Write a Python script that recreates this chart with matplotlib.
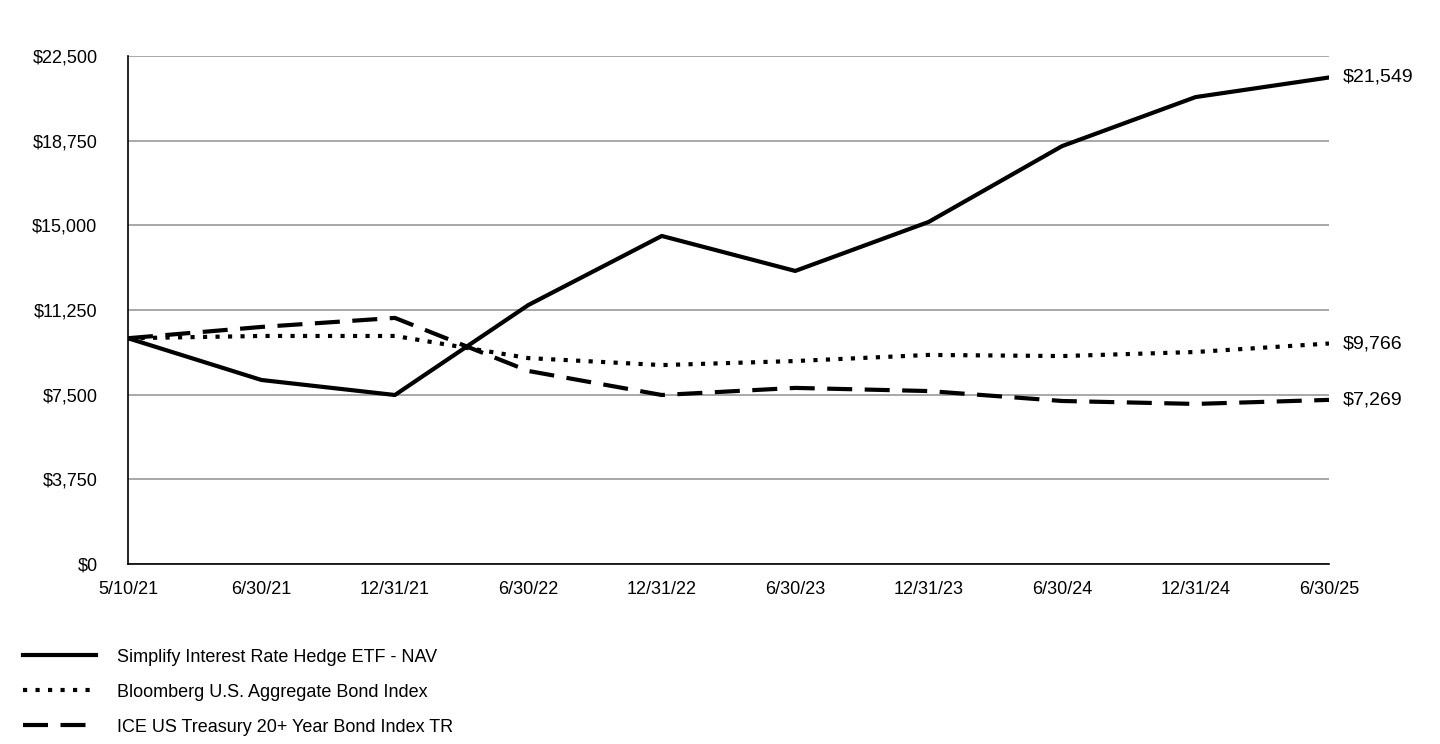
import matplotlib
matplotlib.use("Agg")
import matplotlib.pyplot as plt

dates = ["5/10/21","6/30/21","12/31/21","6/30/22","12/31/22","6/30/23","12/31/23","6/30/24","12/31/24","6/30/25"]
nav = [10000, 8150, 7485, 11470, 14530, 12980, 15150, 18510, 20680, 21549]
agg = [10000, 10100, 10100, 9120, 8810, 8990, 9260, 9210, 9390, 9766]
tsy = [10000, 10500, 10900, 8550, 7485, 7800, 7660, 7220, 7090, 7269]
yticks = [0, 3750, 7500, 11250, 15000, 18750, 22500]

plt.rcParams["font.family"] = "Liberation Sans"
fig = plt.figure(figsize=(14.4, 7.44), dpi=100)
ax = fig.add_axes([128/1440, 1-564/744, (1329-128)/1440, (564-56)/744])
x = list(range(len(dates)))
ax.plot(x, nav, color="black", lw=3, label="Simplify Interest Rate Hedge ETF - NAV")
ax.plot(x, agg, color="black", lw=3, linestyle=(0, (1, 2)), label="Bloomberg U.S. Aggregate Bond Index")
ax.plot(x, tsy, color="black", lw=3, linestyle=(0, (6, 3)), label="ICE US Treasury 20+ Year Bond Index TR")
ax.set_xlim(0, len(dates)-1)
ax.set_ylim(0, 22500)
ax.set_yticks(yticks)
ax.set_yticklabels([f"${v:,}" for v in yticks], fontsize=13)
ax.set_xticks(x)
ax.set_xticklabels(dates, fontsize=13)
ax.tick_params(length=0, pad=12)
ax.tick_params(axis="y", pad=22)
ax.grid(axis="y", color="#999999", lw=1.2)
ax.set_axisbelow(True)
for s in ["top", "right"]:
    ax.spines[s].set_visible(False)
ax.spines["left"].set_linewidth(1.2)
ax.spines["bottom"].set_linewidth(1.2)
for series in (nav, agg, tsy):
    ax.text(len(dates)-1 + 0.1, series[-1], f"${series[-1]:,}", va="center", ha="left", fontsize=14, clip_on=False)
h, l = ax.get_legend_handles_labels()
fig.legend(h, l, loc="upper left", bbox_to_anchor=(0.005, 0.15), frameon=False, fontsize=13,
           handlelength=4, labelspacing=1.0, handletextpad=1.2)
fig.savefig("out.png", dpi=100)
